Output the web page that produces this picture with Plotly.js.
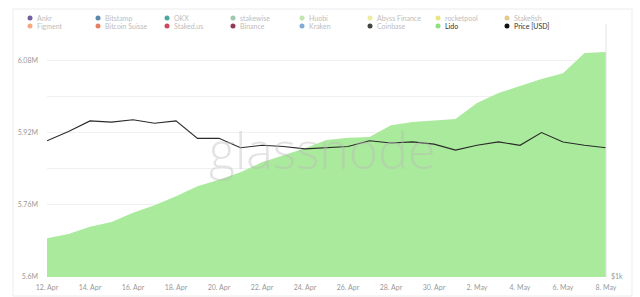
<!DOCTYPE html>
<html>
<head>
<meta charset="utf-8">
<script src="https://cdn.plot.ly/plotly-3.0.1.min.js"></script>
<style>html,body{margin:0;padding:0;background:#fff;}#chart{width:640px;height:297px;}</style>
</head>
<body>
<div id="chart"></div>
<script>
// ---- data ----
const dates = ["2023-04-12","2023-04-13","2023-04-14","2023-04-15","2023-04-16","2023-04-17","2023-04-18","2023-04-19","2023-04-20","2023-04-21","2023-04-22","2023-04-23","2023-04-24","2023-04-25","2023-04-26","2023-04-27","2023-04-28","2023-04-29","2023-04-30","2023-05-01","2023-05-02","2023-05-03","2023-05-04","2023-05-05","2023-05-06","2023-05-07","2023-05-08"];
const lidoStaked = [5.686e6,5.695e6,5.711e6,5.722e6,5.742e6,5.759e6,5.779e6,5.801e6,5.815e6,5.832e6,5.854e6,5.870e6,5.885e6,5.903e6,5.908e6,5.910e6,5.936e6,5.943e6,5.947e6,5.950e6,5.985e6,6.007e6,6.023e6,6.038e6,6.051e6,6.096e6,6.098e6];
const priceUsd = [1921,1984,2055,2047,2063,2039,2055,1937,1937,1874,1890,1882,1866,1874,1882,1921,1906,1913,1898,1858,1890,1913,1890,1976,1913,1890,1874];
const leftTickVals = [5.6e6,5.68e6,5.76e6,5.84e6,5.92e6,6.0e6,6.08e6,6.16e6];
const leftTickText = ["5.6M","","5.76M","","5.92M","","6.08M",""];
const xTickVals = ["2023-04-12","2023-04-14","2023-04-16","2023-04-18","2023-04-20","2023-04-22","2023-04-24","2023-04-26","2023-04-28","2023-04-30","2023-05-02","2023-05-04","2023-05-06","2023-05-08"];
const xTickText = ["12. Apr","14. Apr","16. Apr","18. Apr","20. Apr","22. Apr","24. Apr","26. Apr","28. Apr","30. Apr","2. May","4. May","6. May","8. May"];
const rightTickVals = [1000];
const rightTickText = ["$1k"];
const legendNames = ["Ankr","Bitstamp","OKX","stakewise","Huobi","Abyss Finance","rocketpool","Stakefish","Figment","Bitcoin Suisse","Staked.us","Binance","Kraken","Coinbase","Lido","Price [USD]"];
const legendColors = ["#5b4391","#3e74a0","#2f9a8c","#8fbf9c","#b6e2a2","#e8ea8c","#e4e070","#e3c07c","#f29a6a","#e06a4a","#c3283e","#7d1a3a","#6c9bd0","#222222","#8fe07e","#111111"];
const legendActive = [false,false,false,false,false,false,false,false,false,false,false,false,false,false,true,true];

// ---- layout helpers ----
const W = 640, H = 297;
const M = {l:47, r:34, t:24, b:20};
const pw = W - M.l - M.r, ph = H - M.t - M.b;
const px2x = p => (p - M.l) / pw;
const py2y = p => (H - M.b - p) / ph;

const traces = [
  {x: dates, y: lidoStaked, type:'scatter', mode:'lines', fill:'tozeroy',
   line:{color:'rgba(0,0,0,0)', width:0, shape:'linear'}, fillcolor:'#aaea9c',
   name:'Lido', showlegend:false, hoverinfo:'skip'},
  {x: dates, y: priceUsd, type:'scatter', mode:'lines', yaxis:'y2',
   line:{color:'#2a2a2a', width:1.1}, name:'Price [USD]', showlegend:false}
];

const shapes = [
  {type:'rect', xref:'paper', yref:'paper', x0:px2x(13), x1:px2x(632), y0:py2y(296), y1:py2y(9),
   line:{color:'#ececec', width:1}, fillcolor:'rgba(0,0,0,0)', layer:'below'},
  {type:'line', xref:'paper', yref:'paper', x0:px2x(606), x1:px2x(606), y0:0, y1:1,
   line:{color:'#e2e2e2', width:1}}
];
const annotations = [
  {text:'glassnode', xref:'paper', yref:'paper', x:px2x(322), y:py2y(150), xanchor:'center', yanchor:'middle',
   showarrow:false, font:{family:'Open Sans, Lato, sans-serif', size:50, color:'rgba(185,185,185,0.4)', weight:300}}
];
const colX = [30,98,167,233,302,370,438,507];
const rowY = [18,26];
legendNames.forEach((nm,i)=>{
  const cx = colX[i%8], cy = rowY[Math.floor(i/8)];
  shapes.push({type:'circle', xref:'paper', yref:'paper', xsizemode:'pixel', ysizemode:'pixel',
    xanchor:px2x(cx), yanchor:py2y(cy), x0:-2.5, x1:2.5, y0:-2.5, y1:2.5,
    fillcolor:legendColors[i], line:{width:0}, opacity: legendActive[i]?1:0.85});
  annotations.push({text:nm, xref:'paper', yref:'paper', x:px2x(cx+5), y:py2y(cy), xanchor:'left', yanchor:'middle',
    showarrow:false, font:{family:'Lato, Open Sans, sans-serif', size:7, color: legendActive[i]?'#333':'#bdbdbd'}});
});

const layout = {
  width:W, height:H, margin:{l:M.l, r:M.r, t:M.t, b:M.b, pad:0},
  paper_bgcolor:'#fff', plot_bgcolor:'#fff', showlegend:false,
  font:{family:'Lato, Open Sans, sans-serif', size:7, color:'#999'},
  xaxis:{type:'date', range:['2023-04-12','2023-05-08'], tickvals:xTickVals, ticktext:xTickText,
    showgrid:false, zeroline:false, showline:false, ticks:'', tickfont:{size:7, color:'#999'}, ticklabelstandoff:5},
  yaxis:{range:[5.6e6,6.16e6], tickvals:leftTickVals, ticktext:leftTickText, showgrid:true, gridcolor:'#f0f0f0',
    gridwidth:1, zeroline:false, showline:false, ticks:'', tickfont:{size:7, color:'#999'}, ticklabelstandoff:8},
  yaxis2:{overlaying:'y', side:'right', range:[1000,2710], tickvals:rightTickVals, ticktext:rightTickText,
    showgrid:false, zeroline:false, showline:false, ticks:'', tickfont:{size:7, color:'#999'}, ticklabelstandoff:4},
  shapes:shapes, annotations:annotations
};
Plotly.newPlot('chart', traces, layout, {displayModeBar:false, staticPlot:true});
</script>
</body>
</html>
